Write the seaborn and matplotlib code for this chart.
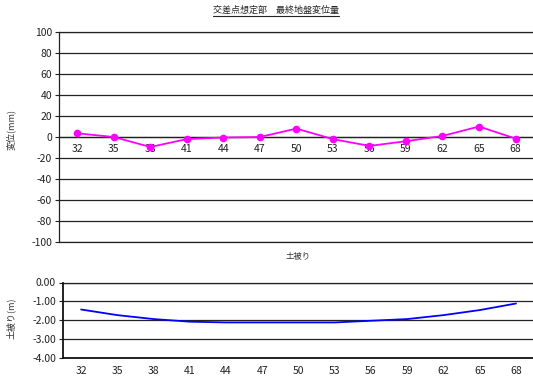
import matplotlib
matplotlib.use("Agg")
import matplotlib.pyplot as plt
import seaborn as sns
import numpy as np
import pandas as pd
from matplotlib.lines import Line2D

sns.set_style("white")
plt.rcParams['font.family'] = ['Noto Sans CJK JP', 'DejaVu Sans']

categories = ["32", "35", "38", "41", "44", "47", "50", "53", "56", "59", "62", "65", "68"]
displacement = [3.5, 0.0, -9.5, -2.0, -0.5, 0.0, 8.0, -2.0, -8.5, -4.0, 1.0, 10.0, -1.5]
cover = [-1.44, -1.74, -1.95, -2.09, -2.13, -2.13, -2.13, -2.13, -2.04, -1.95, -1.74, -1.47, -1.12]
top_yticks = [100, 80, 60, 40, 20, 0, -20, -40, -60, -80, -100]
bot_yticks = [0.0, -1.0, -2.0, -3.0, -4.0]

title_text = "交差点想定部　最終地盤変位量"
top_ylabel = "変位(mm)"
bot_title = "土被り"
bot_ylabel = "土被り(m)"

W, H = 533, 378
fig = plt.figure(figsize=(W / 100, H / 100), dpi=100)

def fx(px):
    return px / W

def fy(py):
    return 1 - py / H

df = pd.DataFrame({"pos": np.arange(len(categories)), "cat": categories,
                   "disp": displacement, "cover": cover})

FS = 7.5
gridc = "#222222"

# ---- top chart ----
ax1 = fig.add_axes([fx(59), fy(242), fx(533 - 59) + 0.01, (242 - 32) / H])
ax1.spines["bottom"].set_position(("data", 0))
sns.lineplot(data=df, x="pos", y="disp", ax=ax1, color="#FF00FF", marker="o",
             markersize=5.5, markeredgewidth=0, linewidth=1.3, zorder=5)
ax1.set_ylim(-100, 100)
ax1.set_xlim(-0.5, (533 - 77) / 37.0 + 0.3)
ax1.set_yticks(top_yticks)
ax1.set_yticklabels([str(v) for v in top_yticks], fontsize=FS, color="#222222")
ax1.set_xticks(df["pos"])
ax1.set_xticklabels(categories, fontsize=FS, color="#222222")
ax1.set_xticks(np.arange(len(categories)) - 0.5 + 1, minor=True)
ax1.tick_params(axis="x", which="major", length=0, pad=5, labelsize=FS)
ax1.tick_params(axis="x", which="minor", length=6, direction="inout", width=0.8, color="#222222")
ax1.tick_params(axis="y", length=3, width=0.8, direction="out", color="#222222", pad=2, left=True)
ax1.yaxis.grid(True, color=gridc, linewidth=0.9)
ax1.xaxis.grid(False)
ax1.axhline(-100, color=gridc, linewidth=0.9, clip_on=False, zorder=1)
ax1.axhline(100, color=gridc, linewidth=0.9, clip_on=False, zorder=1)
ax1.spines["bottom"].set_color("#222222")
ax1.spines["bottom"].set_linewidth(0.9)
ax1.spines["left"].set_color("#222222")
ax1.spines["left"].set_linewidth(0.9)
ax1.spines["top"].set_visible(False)
ax1.spines["right"].set_visible(False)
ax1.set_xlabel("")
ax1.set_ylabel("")
ax1.set_axisbelow(True)
fig.text(fx(11), fy(130), top_ylabel, rotation=90, ha="center", va="center",
         fontsize=6.5, color="#333333")

# ---- bottom chart ----
ax2 = fig.add_axes([fx(63), fy(357.5), fx(533 - 63) + 0.01, (357.5 - 282.5) / H])
sns.lineplot(data=df, x="pos", y="cover", ax=ax2, color="#0000FF", linewidth=1.3)
ax2.set_ylim(-4, 0)
ax2.set_xlim(-0.5, (533 - 81) / 36.7 + 0.3)
ax2.set_yticks(bot_yticks)
ax2.set_yticklabels([f"{v:.2f}" for v in bot_yticks], fontsize=FS, color="#222222")
ax2.set_xticks(df["pos"])
ax2.set_xticklabels(categories, fontsize=FS, color="#222222")
ax2.set_xticks(np.arange(len(categories)) - 0.5 + 1, minor=True)
ax2.tick_params(axis="x", which="major", length=0, pad=6)
ax2.tick_params(axis="x", which="minor", length=6, direction="inout", width=1.0, color="#111111")
ax2.tick_params(axis="y", length=3, width=0.8, direction="out", color="#222222", pad=2, left=True)
ax2.yaxis.grid(True, color=gridc, linewidth=0.9)
ax2.xaxis.grid(False)
ax2.axhline(0, color=gridc, linewidth=0.9, clip_on=False, zorder=1)
ax2.spines["bottom"].set_color("#111111")
ax2.spines["bottom"].set_linewidth(1.3)
ax2.spines["left"].set_color("#111111")
ax2.spines["left"].set_linewidth(1.3)
ax2.spines["top"].set_visible(False)
ax2.spines["right"].set_visible(False)
ax2.set_xlabel("")
ax2.set_ylabel("")
ax2.set_axisbelow(True)
fig.text(fx(11), fy(318), bot_ylabel, rotation=90, ha="center", va="center",
         fontsize=6.5, color="#333333")
fig.text(fx(298), fy(256), bot_title, ha="center", va="center", fontsize=6, color="#333333")

# ---- title ----
fig.text(fx(276), fy(10), title_text, ha="center", va="center", fontsize=6.5, color="#222222")
fig.add_artist(Line2D([fx(213), fx(339)], [fy(16), fy(16)], color="#222222",
                      linewidth=0.8, transform=fig.transFigure))

fig.savefig("out.png", dpi=100)
